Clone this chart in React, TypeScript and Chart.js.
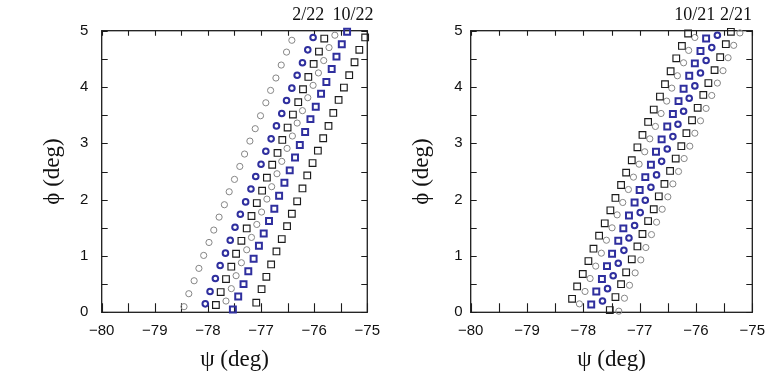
import React, { useEffect, useRef } from 'react';
import { Chart, registerables } from 'chart.js';

Chart.register(...registerables);

// ---------- Left panel (2/22, 10/22) ----------
const leftGrayA_psi = [-78.45, -78.36, -78.26, -78.17, -78.08, -77.98, -77.89, -77.79, -77.69, -77.60, -77.50, -77.40, -77.31, -77.21, -77.11, -77.01, -76.91, -76.82, -76.72, -76.62, -76.52, -76.42];
const leftGrayA_phi = [0.10, 0.33, 0.56, 0.78, 1.01, 1.24, 1.46, 1.69, 1.91, 2.14, 2.36, 2.59, 2.81, 3.04, 3.26, 3.49, 3.72, 3.94, 4.16, 4.39, 4.62, 4.83];

const leftBlueCirc_psi = [-78.05, -77.96, -77.86, -77.77, -77.67, -77.58, -77.49, -77.39, -77.29, -77.19, -77.10, -77.00, -76.91, -76.81, -76.71, -76.61, -76.52, -76.42, -76.32, -76.22, -76.12, -76.02];
const leftBlueCirc_phi = [0.15, 0.37, 0.60, 0.83, 1.05, 1.28, 1.51, 1.74, 1.96, 2.19, 2.41, 2.63, 2.86, 3.08, 3.31, 3.53, 3.76, 3.98, 4.21, 4.43, 4.66, 4.88];

const leftBlackSqA_psi = [-77.85, -77.76, -77.66, -77.56, -77.47, -77.37, -77.27, -77.18, -77.08, -76.98, -76.89, -76.79, -76.69, -76.60, -76.50, -76.40, -76.30, -76.21, -76.11, -76.01, -75.91, -75.81];
const leftBlackSqA_phi = [0.13, 0.36, 0.59, 0.81, 1.04, 1.27, 1.49, 1.71, 1.94, 2.16, 2.39, 2.62, 2.83, 3.06, 3.28, 3.51, 3.73, 3.96, 4.18, 4.41, 4.63, 4.86];

const leftGrayB_psi = [-77.66, -77.56, -77.47, -77.37, -77.27, -77.18, -77.08, -76.99, -76.89, -76.80, -76.70, -76.61, -76.51, -76.41, -76.32, -76.22, -76.12, -76.02, -75.92, -75.82, -75.72, -75.61];
const leftGrayB_phi = [0.20, 0.42, 0.65, 0.88, 1.11, 1.33, 1.56, 1.78, 2.01, 2.23, 2.46, 2.68, 2.91, 3.13, 3.36, 3.58, 3.81, 4.03, 4.25, 4.47, 4.70, 4.92];

const leftBlueSq_psi = [-77.53, -77.43, -77.33, -77.24, -77.14, -77.04, -76.95, -76.85, -76.75, -76.66, -76.56, -76.46, -76.36, -76.27, -76.17, -76.07, -75.97, -75.87, -75.77, -75.67, -75.58, -75.48, -75.38];
const leftBlueSq_phi = [0.05, 0.28, 0.50, 0.73, 0.95, 1.18, 1.40, 1.62, 1.84, 2.07, 2.30, 2.52, 2.75, 2.97, 3.20, 3.43, 3.65, 3.88, 4.09, 4.32, 4.54, 4.76, 4.98];

const leftBlackSqB_psi = [-77.09, -76.99, -76.90, -76.81, -76.71, -76.61, -76.51, -76.42, -76.32, -76.22, -76.13, -76.03, -75.93, -75.83, -75.73, -75.64, -75.54, -75.44, -75.34, -75.24, -75.15, -75.04];
const leftBlackSqB_phi = [0.17, 0.41, 0.63, 0.85, 1.08, 1.30, 1.53, 1.75, 1.97, 2.20, 2.43, 2.65, 2.87, 3.09, 3.31, 3.54, 3.77, 3.99, 4.21, 4.44, 4.66, 4.88];

const leftLabels = ['2/22', '10/22'];
const leftLabelPsi = [-76.11, -75.27];

// ---------- Right panel (10/21, 2/21) ----------
const rightBlackSqA_psi = [-78.20, -78.11, -78.01, -77.91, -77.82, -77.72, -77.62, -77.52, -77.43, -77.33, -77.24, -77.14, -77.04, -76.95, -76.85, -76.75, -76.64, -76.55, -76.45, -76.35, -76.25, -76.14];
const rightBlackSqA_phi = [0.24, 0.46, 0.68, 0.91, 1.13, 1.36, 1.58, 1.81, 2.03, 2.26, 2.48, 2.70, 2.93, 3.15, 3.38, 3.60, 3.83, 4.05, 4.28, 4.51, 4.73, 4.95];

const rightGrayA_psi = [-78.07, -77.97, -77.88, -77.78, -77.68, -77.59, -77.49, -77.40, -77.30, -77.20, -77.11, -77.01, -76.91, -76.82, -76.72, -76.62, -76.52, -76.43, -76.33, -76.22, -76.13, -76.02];
const rightGrayA_phi = [0.15, 0.37, 0.60, 0.82, 1.05, 1.28, 1.50, 1.73, 1.95, 2.18, 2.40, 2.63, 2.85, 3.08, 3.30, 3.53, 3.75, 3.98, 4.20, 4.43, 4.65, 4.88];

const rightBlueSq_psi = [-77.86, -77.77, -77.67, -77.58, -77.49, -77.38, -77.29, -77.19, -77.09, -77.00, -76.90, -76.80, -76.71, -76.61, -76.51, -76.41, -76.31, -76.22, -76.12, -76.02, -75.92, -75.82];
const rightBlueSq_phi = [0.14, 0.37, 0.59, 0.82, 1.04, 1.27, 1.49, 1.72, 1.95, 2.17, 2.40, 2.62, 2.85, 3.07, 3.30, 3.52, 3.75, 3.97, 4.20, 4.42, 4.64, 4.86];

const rightBlueCirc_psi = [-77.66, -77.57, -77.47, -77.38, -77.28, -77.19, -77.09, -76.99, -76.90, -76.80, -76.70, -76.61, -76.51, -76.41, -76.32, -76.22, -76.12, -76.02, -75.92, -75.82, -75.72, -75.62];
const rightBlueCirc_phi = [0.20, 0.42, 0.65, 0.87, 1.10, 1.32, 1.54, 1.77, 1.99, 2.22, 2.44, 2.68, 2.90, 3.12, 3.34, 3.57, 3.80, 4.02, 4.25, 4.47, 4.70, 4.92];

const rightBlackSqB_psi = [-77.53, -77.43, -77.33, -77.24, -77.14, -77.04, -76.95, -76.85, -76.75, -76.66, -76.56, -76.46, -76.36, -76.26, -76.17, -76.07, -75.97, -75.87, -75.78, -75.67, -75.57, -75.47, -75.38];
const rightBlackSqB_phi = [0.04, 0.27, 0.50, 0.71, 0.94, 1.17, 1.39, 1.62, 1.83, 2.06, 2.28, 2.51, 2.73, 2.95, 3.18, 3.41, 3.63, 3.86, 4.07, 4.30, 4.53, 4.76, 4.98];

const rightGrayB_psi = [-77.37, -77.27, -77.18, -77.08, -76.98, -76.89, -76.79, -76.70, -76.60, -76.50, -76.41, -76.31, -76.21, -76.11, -76.02, -75.92, -75.82, -75.72, -75.62, -75.52, -75.43, -75.33, -75.22];
const rightGrayB_phi = [0.02, 0.25, 0.48, 0.70, 0.93, 1.15, 1.38, 1.60, 1.83, 2.05, 2.28, 2.50, 2.73, 2.95, 3.18, 3.40, 3.62, 3.85, 4.07, 4.29, 4.52, 4.74, 4.96];

const rightLabels = ['10/21', '2/21'];
const rightLabelPsi = [-76.02, -75.29];

// ---------- styles ----------
const BLACK = '#1c1c1c';
const BLUE = '#2f2f9e';
const GRAY = '#858585';

type Kind = 'blackSq' | 'blueSq' | 'blueCirc' | 'gray';

function makeSet(label: string, xs: number[], ys: number[], kind: Kind) {
  const data = xs.map((x, i) => ({ x, y: ys[i] }));
  const base: any = { label, data, showLine: false, backgroundColor: 'rgba(0,0,0,0)', clip: false };
  if (kind === 'blackSq') return { ...base, pointStyle: 'rect', pointRadius: 4.7, borderColor: BLACK, borderWidth: 1.15 };
  if (kind === 'blueSq') return { ...base, pointStyle: 'rect', pointRadius: 4.2, borderColor: BLUE, borderWidth: 2 };
  if (kind === 'blueCirc') return { ...base, pointStyle: 'circle', pointRadius: 2.8, borderColor: BLUE, borderWidth: 2 };
  return { ...base, pointStyle: 'circle', pointRadius: 3.1, borderColor: GRAY, borderWidth: 1 };
}

const framePlugin = {
  id: 'frameTicks',
  beforeDatasetsDraw(chart: any) {
    const { ctx, chartArea: a, scales } = chart;
    ctx.save();
    ctx.strokeStyle = BLACK;
    ctx.lineWidth = 1.1;
    const xs = scales.x;
    xs.ticks.forEach((_t: any, i: number) => {
      const px = Math.round(xs.getPixelForTick(i)) + 0.5;
      ctx.beginPath();
      ctx.moveTo(px, a.bottom);
      ctx.lineTo(px, a.bottom - 9);
      ctx.moveTo(px, a.top);
      ctx.lineTo(px, a.top + 5);
      ctx.stroke();
    });
    const ys = scales.y;
    ys.ticks.forEach((_t: any, i: number) => {
      const py = Math.round(ys.getPixelForTick(i)) + 0.5;
      ctx.beginPath();
      ctx.moveTo(a.left, py);
      ctx.lineTo(a.left + 6, py);
      ctx.moveTo(a.right, py);
      ctx.lineTo(a.right - 6, py);
      ctx.stroke();
    });
    ctx.lineWidth = 1.3;
    ctx.strokeRect(a.left, a.top, a.right - a.left, a.bottom - a.top);
    ctx.restore();
  },
  afterDraw(chart: any) {
    const opts = chart.options.plugins.dateLabels;
    if (!opts) return;
    const { ctx, chartArea: a, scales } = chart;
    ctx.save();
    ctx.fillStyle = '#111';
    ctx.font = '18px "Liberation Serif", serif';
    ctx.textAlign = 'center';
    ctx.textBaseline = 'middle';
    opts.texts.forEach((t: string, i: number) => {
      ctx.fillText(t, scales.x.getPixelForValue(opts.psi[i]), a.top - 15);
    });
    ctx.restore();
  },
};

interface PanelProps {
  datasets: any[];
  texts: string[];
  psi: number[];
  left: number;
  padRight: number;
  yTitlePad: number;
  yTickPad: number;
  axisWidth: number;
}

function Panel(p: PanelProps) {
  const ref = useRef<HTMLCanvasElement | null>(null);
  useEffect(() => {
    if (!ref.current) return;
    const fmt = (v: any) => {
      const n = Number(v);
      if (!Number.isInteger(n)) return '';
      return n < 0 ? '\u2212' + Math.abs(n) : String(n);
    };
    const chart = new Chart(ref.current, {
      type: 'scatter',
      data: { datasets: p.datasets },
      plugins: [framePlugin],
      options: {
        responsive: false,
        animation: false,
        devicePixelRatio: 1,
        events: [],
        layout: { padding: { top: 30.7, right: p.padRight, bottom: 0, left: 0 } },
        plugins: {
          legend: { display: false },
          tooltip: { enabled: false },
          dateLabels: { texts: p.texts, psi: p.psi },
        } as any,
        scales: {
          x: {
            type: 'linear',
            min: -80,
            max: -75,
            grid: { display: false, drawTicks: false },
            border: { display: false },
            ticks: {
              stepSize: 0.5,
              autoSkip: false,
              maxRotation: 0,
              minRotation: 0,
              padding: 10,
              color: '#111',
              font: { family: '"Liberation Sans", sans-serif', size: 15 },
              callback: fmt,
            },
            title: {
              display: true,
              text: 'ψ (deg)',
              color: '#111',
              font: { family: '"Liberation Serif", serif', size: 23 },
              padding: { top: 0, bottom: 14 },
            },
            afterFit: (s: any) => { s.height = 388 - 312.3; },
          },
          y: {
            type: 'linear',
            min: 0,
            max: 5,
            grid: { display: false, drawTicks: false },
            border: { display: false },
            ticks: {
              stepSize: 0.5,
              autoSkip: false,
              padding: p.yTickPad,
              color: '#111',
              font: { family: '"Liberation Sans", sans-serif', size: 15 },
              callback: fmt,
            },
            title: {
              display: true,
              text: '\u03D5 (deg)',
              color: '#111',
              font: { family: '"Liberation Serif", serif', size: 23 },
              padding: { top: p.yTitlePad, bottom: 0 },
            },
            afterFit: (s: any) => { s.width = p.axisWidth; },
          },
        },
      } as any,
    });
    return () => chart.destroy();
  }, []);
  return (
    <canvas
      ref={ref}
      width={390}
      height={388}
      style={{ position: 'absolute', left: p.left, top: 0, width: 390, height: 388 }}
    />
  );
}

const leftSets = [
  makeSet('2/22 a', leftGrayA_psi, leftGrayA_phi, 'gray'),
  makeSet('2/22 b', leftBlueCirc_psi, leftBlueCirc_phi, 'blueCirc'),
  makeSet('2/22 c', leftBlackSqA_psi, leftBlackSqA_phi, 'blackSq'),
  makeSet('10/22 a', leftGrayB_psi, leftGrayB_phi, 'gray'),
  makeSet('10/22 b', leftBlueSq_psi, leftBlueSq_phi, 'blueSq'),
  makeSet('10/22 c', leftBlackSqB_psi, leftBlackSqB_phi, 'blackSq'),
];

const rightSets = [
  makeSet('10/21 a', rightBlackSqA_psi, rightBlackSqA_phi, 'blackSq'),
  makeSet('10/21 b', rightGrayA_psi, rightGrayA_phi, 'gray'),
  makeSet('10/21 c', rightBlueSq_psi, rightBlueSq_phi, 'blueSq'),
  makeSet('2/21 a', rightBlueCirc_psi, rightBlueCirc_phi, 'blueCirc'),
  makeSet('2/21 b', rightBlackSqB_psi, rightBlackSqB_phi, 'blackSq'),
  makeSet('2/21 c', rightGrayB_psi, rightGrayB_phi, 'gray'),
];

export default function App() {
  return (
    <div style={{ position: 'fixed', left: 0, top: 0, width: 780, height: 388, background: '#fff', overflow: 'hidden' }}>
      <Panel datasets={leftSets} texts={leftLabels} psi={leftLabelPsi} left={0} padRight={6} yTitlePad={39} yTickPad={13.4} axisWidth={101.7} />
      <Panel datasets={rightSets} texts={rightLabels} psi={rightLabelPsi} left={390} padRight={27.7} yTitlePad={18} yTickPad={8.2} axisWidth={80.7} />
    </div>
  );
}
